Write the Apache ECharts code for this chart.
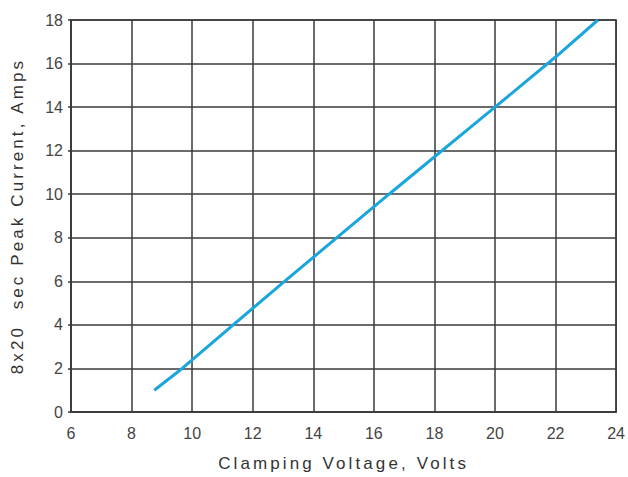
<!DOCTYPE html>
<html>
<head>
<meta charset="utf-8">
<script src="https://cdn.jsdelivr.net/npm/echarts@6/dist/echarts.min.js"></script>
<style>
html,body{margin:0;padding:0;background:#fff;}
#chart{width:628px;height:477px;}
</style>
</head>
<body>
<div id="chart"></div>
<script>
var xTitle = 'Clamping Voltage, Volts';
var yTitle = '8x20  sec Peak Current, Amps';
var xTicks = {min: 6, max: 24, interval: 2};
var yTicks = {min: 0, max: 18, interval: 2};
// Clamping voltage (V) and peak current (A)
var voltage = [8.75, 9.67, 13.05, 16.5, 20.0, 22.0, 23.4];
var current = [1.0, 2.0, 6.0, 10.0, 14.0, 16.3, 18.0];

var gridColor = '#3a3a3a';
var chart = echarts.init(document.getElementById('chart'), null, {renderer: 'svg'});
var pts = voltage.map(function (v, i) { return [v, current[i]]; });

chart.setOption({
  animation: false,
  backgroundColor: '#fff',
  textStyle: {fontFamily: 'Liberation Sans, Arial, sans-serif'},
  grid: {left: 71, right: 10, top: 20, bottom: 64, show: true, borderColor: gridColor, borderWidth: 1.5, backgroundColor: 'transparent'},
  xAxis: {
    type: 'value', min: xTicks.min, max: xTicks.max, interval: xTicks.interval,
    name: xTitle, nameLocation: 'middle', nameGap: 43,
    nameTextStyle: {fontSize: 17, color: '#333'},
    axisLine: {show: true, lineStyle: {color: gridColor, width: 1.5}},
    axisTick: {show: false},
    axisLabel: {margin: 13, fontSize: 16, color: '#444'},
    splitLine: {show: true, lineStyle: {color: gridColor, width: 1.5}}
  },
  yAxis: {
    type: 'value', min: yTicks.min, max: yTicks.max, interval: yTicks.interval,
    name: yTitle, nameLocation: 'middle', nameGap: 45,
    nameTextStyle: {fontSize: 17, color: '#333'},
    axisLine: {show: true, lineStyle: {color: gridColor, width: 1.5}},
    axisTick: {show: true, length: 3, lineStyle: {color: gridColor, width: 1.5}},
    axisLabel: {margin: 8, fontSize: 16, color: '#444'},
    splitLine: {show: true, lineStyle: {color: gridColor, width: 1.5}}
  },
  series: [{
    type: 'line', data: pts, showSymbol: false, smooth: false,
    lineStyle: {color: '#1aa5de', width: 3}
  }]
});

function spaceTitles() {
  var texts = document.querySelectorAll('#chart text');
  texts.forEach(function (t) {
    if (t.textContent.length > 10) {
      t.setAttribute('letter-spacing', '3.1px');
      t.style.letterSpacing = '3.1px';
      t.style.whiteSpace = 'pre';
    }
  });
}
spaceTitles();
chart.on('finished', spaceTitles);
</script>
</body>
</html>
